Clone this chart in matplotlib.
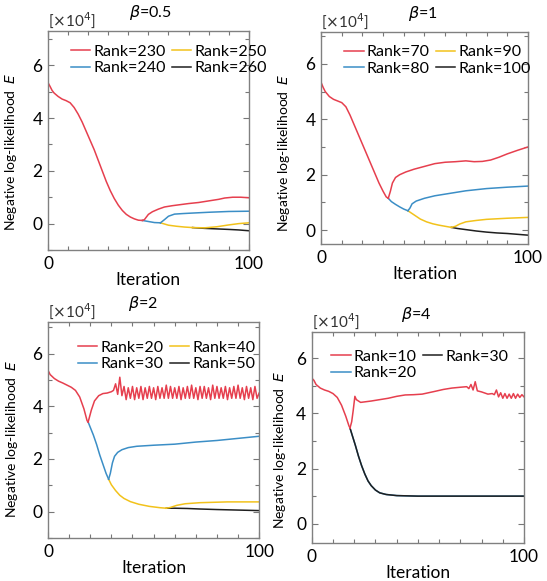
import matplotlib
matplotlib.use("Agg")
import matplotlib.pyplot as plt
from matplotlib.ticker import MultipleLocator

plt.rcParams['font.family'] = ['Lato', 'DejaVu Sans']
plt.rcParams['mathtext.fontset'] = 'dejavusans'

RED = '#e63f4e'
BLUE = '#3b8ec6'
YELLOW = '#f2c21b'
BLACK = '#1f1f1f'

# ---------------- beta = 0.5 ----------------
b05_labels = ['Rank=230', 'Rank=240', 'Rank=250', 'Rank=260']
b05_base_x = [0, 1, 2, 3, 5, 7, 9, 11, 13, 15, 17, 19, 21, 23, 25, 27, 29, 31,
              33, 35, 37, 39, 41, 43, 45, 47]
b05_base_y = [5.34, 5.2, 5.05, 4.95, 4.82, 4.72, 4.66, 4.58, 4.4, 4.15, 3.85,
              3.5, 3.15, 2.8, 2.4, 2.0, 1.6, 1.25, 0.95, 0.7, 0.5, 0.35, 0.25,
              0.18, 0.13, 0.12]
b05_red_x = [47, 48, 49, 50, 52, 55, 58, 62, 66, 70, 75, 80, 85, 88, 92, 96, 100]
b05_red_y = [0.12, 0.15, 0.25, 0.35, 0.45, 0.55, 0.63, 0.68, 0.72, 0.76, 0.8,
             0.86, 0.92, 0.97, 1.0, 1.0, 0.98]
b05_mid_x = [47, 50, 53, 56]
b05_mid_y = [0.12, 0.08, 0.04, 0.03]
b05_blue_x = [56, 58, 60, 63, 67, 72, 80, 90, 100]
b05_blue_y = [0.03, 0.15, 0.28, 0.36, 0.38, 0.4, 0.43, 0.46, 0.47]
b05_low_x = [56, 60, 64, 68, 72]
b05_low_y = [0.03, -0.06, -0.1, -0.13, -0.15]
b05_yel_x = [72, 78, 84, 90, 95, 100]
b05_yel_y = [-0.15, -0.16, -0.12, -0.05, 0.0, 0.03]
b05_blk_x = [72, 78, 84, 90, 95, 100]
b05_blk_y = [-0.15, -0.18, -0.2, -0.22, -0.24, -0.27]

# ---------------- beta = 1 ----------------
b1_labels = ['Rank=70', 'Rank=80', 'Rank=90', 'Rank=100']
b1_base_x = [0, 1, 2, 4, 6, 8, 10, 12, 14, 16, 18, 20, 22, 24, 26, 28, 30,
             31.5, 32.5]
b1_base_y = [5.33, 5.15, 5.0, 4.82, 4.72, 4.66, 4.6, 4.45, 4.15, 3.8, 3.45,
             3.1, 2.75, 2.4, 2.05, 1.7, 1.4, 1.2, 1.15]
b1_red_x = [32.5, 33.5, 34.5, 36, 38, 41, 45, 50, 55, 60, 65, 70, 74, 78, 82,
            86, 90, 95, 100]
b1_red_y = [1.15, 1.4, 1.7, 1.9, 2.0, 2.1, 2.2, 2.3, 2.4, 2.45, 2.47, 2.5,
            2.47, 2.48, 2.53, 2.63, 2.75, 2.88, 3.0]
b1_mid_x = [32.5, 34, 36, 38, 40, 42]
b1_mid_y = [1.15, 1.03, 0.93, 0.84, 0.76, 0.7]
b1_blue_x = [42, 43, 44, 46, 50, 55, 60, 65, 70, 75, 80, 90, 100]
b1_blue_y = [0.7, 0.8, 0.95, 1.05, 1.15, 1.24, 1.3, 1.36, 1.42, 1.46, 1.5,
             1.55, 1.59]
b1_low_x = [42, 44, 46, 48, 51, 54, 57, 60, 63]
b1_low_y = [0.7, 0.6, 0.5, 0.4, 0.3, 0.23, 0.18, 0.14, 0.1]
b1_yel_x = [63, 65, 67, 70, 75, 80, 90, 100]
b1_yel_y = [0.1, 0.14, 0.22, 0.3, 0.35, 0.39, 0.43, 0.46]
b1_blk_x = [63, 66, 70, 75, 80, 85, 90, 95, 100]
b1_blk_y = [0.1, 0.06, 0.02, -0.03, -0.07, -0.1, -0.12, -0.15, -0.18]

# ---------------- beta = 2 ----------------
b2_labels = ['Rank=20', 'Rank=30', 'Rank=40', 'Rank=50']
b2_base_x = [0, 1, 3, 5, 7, 9, 11, 13, 15, 17, 18.5, 19]
b2_base_y = [5.36, 5.2, 5.05, 4.95, 4.88, 4.8, 4.72, 4.6, 4.35, 3.9, 3.45, 3.4]
b2_red_x = [19, 19.5, 20.5, 22, 24, 26, 28] + list(range(30, 101))
b2_red_y = [3.4, 3.55, 3.85, 4.2, 4.4, 4.48, 4.5,
            4.55, 4.6, 4.85, 4.45, 5.1, 4.4, 4.75, 4.25, 4.7, 4.3,
            4.75, 4.25, 4.7, 4.3, 4.75, 4.25, 4.7, 4.3, 4.75, 4.3,
            4.7, 4.25, 4.75, 4.3, 4.7, 4.3, 4.8, 4.3, 4.75, 4.3,
            4.7, 4.3, 4.75, 4.25, 4.7, 4.3, 4.75, 4.3, 4.8, 4.3,
            4.7, 4.25, 4.75, 4.3, 4.75, 4.3, 4.7, 4.25, 4.8, 4.3,
            4.75, 4.3, 4.7, 4.3, 4.75, 4.25, 4.7, 4.3, 4.75, 4.3,
            4.8, 4.3, 4.7, 4.25, 4.75, 4.3, 4.7, 4.25, 4.75, 4.3, 4.5]
b2_mid_x = [19, 20, 21.5, 23, 24.5, 26, 27.5, 28.7]
b2_mid_y = [3.4, 3.2, 2.9, 2.55, 2.15, 1.8, 1.45, 1.23]
b2_blue_x = [28.7, 29.5, 30.5, 31.5, 33, 35, 38, 42, 50, 60, 70, 80, 90, 100]
b2_blue_y = [1.23, 1.45, 1.85, 2.1, 2.25, 2.35, 2.43, 2.48, 2.52, 2.56, 2.64,
             2.7, 2.78, 2.86]
b2_low_x = [28.7, 30, 32, 34, 36, 39, 43, 48, 53, 56]
b2_low_y = [1.23, 1.02, 0.8, 0.62, 0.5, 0.38, 0.28, 0.2, 0.15, 0.13]
b2_yel_x = [56, 58, 61, 65, 72, 85, 100]
b2_yel_y = [0.13, 0.16, 0.24, 0.3, 0.34, 0.37, 0.37]
b2_blk_x = [56, 60, 66, 72, 80, 90, 100]
b2_blk_y = [0.13, 0.13, 0.12, 0.1, 0.08, 0.06, 0.04]

# ---------------- beta = 4 ----------------
b4_labels = ['Rank=10', 'Rank=20', 'Rank=30']
b4_base_x = [0, 1, 2, 4, 6, 8, 10, 12, 14, 16, 17.5, 18]
b4_base_y = [5.28, 5.2, 5.05, 4.92, 4.85, 4.8, 4.72, 4.58, 4.3, 3.9, 3.55, 3.47]
b4_red_x = [18, 18.8, 19.5, 20.3, 21, 22, 23, 25, 28, 32, 36, 40, 44, 48, 52,
            55, 58, 62, 66, 70, 73, 74, 75, 76, 77, 78, 80, 83, 85, 86, 87, 88,
            89, 90, 91, 92, 93, 94, 95, 96, 97, 98, 99, 100]
b4_red_y = [3.47, 3.7, 4.1, 4.62, 4.5, 4.45, 4.4, 4.42, 4.45, 4.5, 4.55, 4.62,
            4.67, 4.68, 4.7, 4.75, 4.8, 4.87, 4.92, 4.95, 4.97, 4.9, 5.05, 4.85,
            5.15, 4.82, 4.78, 4.7, 4.72, 4.68, 4.85, 4.6, 4.75, 4.55, 4.72,
            4.55, 4.7, 4.55, 4.72, 4.55, 4.7, 4.58, 4.68, 4.6]
b4_rest_x = [18, 19, 20.5, 22, 23.5, 25, 26.5, 28, 30, 32, 35, 40, 50, 100]
b4_rest_y = [3.47, 3.22, 2.85, 2.45, 2.1, 1.8, 1.55, 1.38, 1.22, 1.12, 1.06,
             1.02, 1.0, 1.0]


def style_axes(ax, ylim, ylab_pos, h_px):
    ax.set_xlim(0, 100)
    ax.set_ylim(*ylim)
    ax.set_xticks([0, 100])
    ax.xaxis.set_minor_locator(MultipleLocator(10))
    ax.set_yticks([0, 2, 4, 6])
    ax.yaxis.set_minor_locator(MultipleLocator(1))
    ax.tick_params(which='both', direction='in', top=True, right=True,
                   color='#777777', labelsize=12.5, width=0.8)
    ax.tick_params(which='major', length=4, pad=4)
    ax.tick_params(which='minor', length=3)
    for s in ax.spines.values():
        s.set_color('#808080')
        s.set_linewidth(1.0)
    ax.set_xlabel('Iteration', fontsize=12.5, labelpad=0)
    ax.set_ylabel(r'Negative log-likelihood  $E$', fontsize=10)
    ax.yaxis.set_label_coords(*ylab_pos)
    ax.text(0.0, 1 + 11 / h_px, r'[$\times$10$^4$]', transform=ax.transAxes,
            fontsize=11, ha='left', va='center', color='#333333')


def draw_panel(ax, title, labels, pieces, ylim, tx, leg_xy, ylab_pos, h_px):
    handles = []
    for xs, ys, c in pieces:
        ax.plot(xs, ys, color=c, lw=1.1, solid_joinstyle='round')
    for lab, c in labels:
        h, = ax.plot([], [], color=c, lw=1.1, label=lab)
        handles.append(h)
    ax.legend(handles=handles, ncol=2, frameon=False, loc='upper left',
              bbox_to_anchor=leg_xy, fontsize=11.5,
              handlelength=1.2, handletextpad=0.2, columnspacing=0.4,
              labelspacing=0.15, borderaxespad=0.0, borderpad=0.3)
    style_axes(ax, ylim, ylab_pos, h_px)
    ax.text(tx, 1 + 18 / h_px, title, transform=ax.transAxes, fontsize=11.5,
            ha='center', va='center')


fig = plt.figure(figsize=(5.47, 5.81), dpi=100)

ax1 = fig.add_axes([0.0878, 0.5697, 0.367, 0.377])
draw_panel(ax1, r'$\beta$=0.5',
           list(zip(b05_labels, [RED, BLUE, YELLOW, BLACK])),
           [(b05_blk_x, b05_blk_y, BLACK), (b05_yel_x, b05_yel_y, YELLOW),
            (b05_low_x, b05_low_y, YELLOW),
            (b05_blue_x, b05_blue_y, BLUE), (b05_mid_x, b05_mid_y, BLUE),
            (b05_red_x, b05_red_y, RED), (b05_base_x, b05_base_y, RED)],
           (-1.0, 7.3), 0.51, (0.09, 0.96), (-0.145, 0.45), 219)

ax2 = fig.add_axes([0.587, 0.580, 0.378, 0.365])
draw_panel(ax2, r'$\beta$=1',
           list(zip(b1_labels, [RED, BLUE, YELLOW, BLACK])),
           [(b1_blk_x, b1_blk_y, BLACK), (b1_yel_x, b1_yel_y, YELLOW),
            (b1_low_x, b1_low_y, YELLOW),
            (b1_blue_x, b1_blue_y, BLUE), (b1_mid_x, b1_mid_y, BLUE),
            (b1_red_x, b1_red_y, RED), (b1_base_x, b1_base_y, RED)],
           (-0.5, 7.15), 0.49, (0.09, 0.96), (-0.14, 0.43), 212)

ax3 = fig.add_axes([0.0878, 0.074, 0.386, 0.372])
draw_panel(ax3, r'$\beta$=2',
           list(zip(b2_labels, [RED, BLUE, YELLOW, BLACK])),
           [(b2_blk_x, b2_blk_y, BLACK), (b2_yel_x, b2_yel_y, YELLOW),
            (b2_low_x, b2_low_y, YELLOW),
            (b2_blue_x, b2_blue_y, BLUE), (b2_mid_x, b2_mid_y, BLUE),
            (b2_red_x, b2_red_y, RED), (b2_base_x, b2_base_y, RED)],
           (-1.0, 7.2), 0.45, (0.12, 0.935), (-0.135, 0.46), 216)

ax4 = fig.add_axes([0.570, 0.0654, 0.388, 0.363])
draw_panel(ax4, r'$\beta$=4',
           list(zip(b4_labels, [RED, BLUE, BLACK])),
           [(b4_rest_x, b4_rest_y, BLUE), (b4_rest_x, b4_rest_y, BLACK),
            (b4_red_x, b4_red_y, RED), (b4_base_x, b4_base_y, RED)],
           (-0.7, 6.95), 0.49, (0.07, 0.94), (-0.11, 0.44), 211)

fig.savefig('out.png', dpi=100)
